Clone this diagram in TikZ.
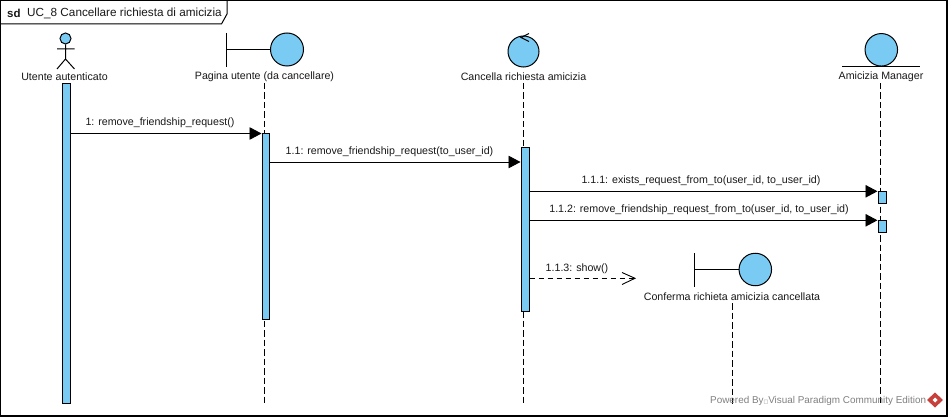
\documentclass[tikz,border=0pt]{standalone}
\usepackage{fontspec}
\setmainfont{Liberation Sans}
\newfontfamily\boxfont{DejaVu Sans}
\usetikzlibrary{arrows.meta}
\definecolor{vpblue}{HTML}{7ACBF3}
\definecolor{wmgray}{HTML}{808080}
\definecolor{wmred}{HTML}{C8403A}
\tikzset{
  lbl/.style={font=\fontsize{10.65}{12}\selectfont, inner sep=0pt, text=black!90},
  bar/.style={draw=black, fill=vpblue, line width=1pt, inner sep=0pt, anchor=north west},
  shape line/.style={draw=black, line width=1pt},
  disc/.style={circle, draw=black, fill=vpblue, line width=1pt, inner sep=0pt},
  life/.style={draw=black, line width=0.9pt, dash pattern=on 6.5pt off 3pt},
  msg/.style={draw=black, line width=0.9pt, -{Triangle[length=12pt,width=12.5pt,fill=black]}},
}
\begin{document}
\begin{tikzpicture}[x=1pt,y=-1pt]
\useasboundingbox (0,0) rectangle (948,417);
\fill[white] (0,0) rectangle (948,417);
% frame
\draw[line width=1.3pt] (0.5,0.5) rectangle (947,416);
\draw[line width=1pt] (0.5,24) -- (221.5,24) -- (227,14) -- (227,0.5);
\node[lbl, anchor=west, font=\fontsize{11.5}{13}\bfseries\selectfont] (sd) at (7,13) {sd};
\node[lbl, anchor=west, font=\fontsize{11.75}{13}\selectfont] (title) at (27,13) {UC\_8 Cancellare richiesta di amicizia};

% y levels
\coordinate (m1) at (0,133.5);
\coordinate (m2) at (0,162);
\coordinate (m3) at (0,191.3);
\coordinate (m4) at (0,220.3);
\coordinate (m5) at (0,278.3);

% labels
\node[lbl] (lA) at (64.5,76.7) {Utente autenticato};
\node[lbl] (lB) at (264.5,76.7) {Pagina utente (da cancellare)};
\node[lbl] (lC) at (523.5,76.7) {Cancella richiesta amicizia};
\node[lbl] (lD) at (881,76.7) {Amicizia Manager};
\node[lbl] (lE) at (732,296.5) {Conferma richieta amicizia cancellata};

% lifeline ends
\coordinate (eB) at (264.5,404);
\coordinate (eC) at (523.5,404);
\coordinate (eD) at (880.5,404);
\coordinate (eE) at (732,404);
\draw[life] (264.5,83) -- (eB);
\draw[life] (523.5,83) -- (eC);
\draw[life] (880.5,83) -- (eD);
\draw[life] (732,303) -- (eE);

% activations
\node[bar, minimum width=8pt, minimum height=319pt] (a1) at (61.5,83.5) {};
\node[bar, minimum width=7pt, minimum height=185.5pt] (a2) at (261.5,133) {};
\node[bar, minimum width=8pt, minimum height=164pt] (a3) at (520.5,147) {};
\node[bar, minimum width=8pt, minimum height=12pt] (a4) at (877.5,191.3) {};
\node[bar, minimum width=8pt, minimum height=12pt] (a5) at (877.5,220.3) {};

% actor
\node[disc, minimum size=11pt] (head) at (65.5,38.5) {};
\coordinate (hip) at (65.5,59);
\coordinate (armL) at (57,49);
\coordinate (armR) at (74.5,49);
\coordinate (legL) at (57,69);
\coordinate (legR) at (74.5,69);
\draw[shape line] (head.south) -- (hip) (armL) -- (armR) (legL) -- (hip) -- (legR);

% boundary B
\node[disc, minimum size=33pt] (cB) at (287,49.5) {};
\coordinate (bB1) at (226.5,33);
\coordinate (bB2) at (226.5,67);
\draw[shape line] (bB1) -- (bB2) (226.5,49.5) -- (cB.west);

% control
\node[disc, minimum size=31pt] (cC) at (523.5,51.5) {};
\coordinate (ctip) at (521,37.5);
\draw[shape line] (529,33.5) -- (ctip) -- (529,41.5);

% entity
\node[disc, minimum size=32.5pt] (cD) at (881.3,49.8) {};
\coordinate (eL) at (842,66.5);
\coordinate (eR) at (920,66.5);
\draw[shape line] (eL) -- (eR);

% boundary E
\node[disc, minimum size=32.5pt] (cE) at (755.3,269.5) {};
\coordinate (bE1) at (694.5,253);
\coordinate (bE2) at (694.5,286.5);
\draw[shape line] (bE1) -- (bE2) (694.5,269.5) -- (cE.west);

% messages
\draw[msg] (a1.east |- m1) -- (a2.west |- m1);
\draw[msg] (a2.east |- m2) -- (a3.west |- m2);
\draw[msg] (a3.east |- m3) -- (a4.west |- m3);
\draw[msg] (a3.east |- m4) -- (a5.west |- m4);
\coordinate (rt) at (635,278.3);
\draw[draw=black, line width=0.9pt, dash pattern=on 5pt off 4pt] (a3.east |- m5) -- (rt);
\draw[draw=black, line width=0.9pt] (622,272.5) -- (rt) -- (622,284.5);

\node[lbl] (t1) at (160,122.3) {1: remove\_friendship\_request()};
\node[lbl] (t2) at (389.5,151.3) {1.1: remove\_friendship\_request(to\_user\_id)};
\node[lbl] (t3) at (701,180.3) {1.1.1: exists\_request\_from\_to(user\_id, to\_user\_id)};
\node[lbl] (t4) at (699,209.3) {1.1.2: remove\_friendship\_request\_from\_to(user\_id, to\_user\_id)};
\node[lbl] (t5) at (577,268.8) {1.1.3: show()};

% watermark
\node[lbl, anchor=west, text=wmgray, font=\fontsize{9.9}{12}\selectfont] (wm) at (710,401) {Powered By{\boxfont\fontsize{5}{6}\selectfont □}Visual Paradigm Community Edition};
\fill[wmred] (935,392.5) -- (943,400) -- (935,407.5) -- (927,400) -- cycle;
\fill[white] (935,397.5) -- (937.5,400) -- (935,402.5) -- (932.5,400) -- cycle;
\end{tikzpicture}
\end{document}
